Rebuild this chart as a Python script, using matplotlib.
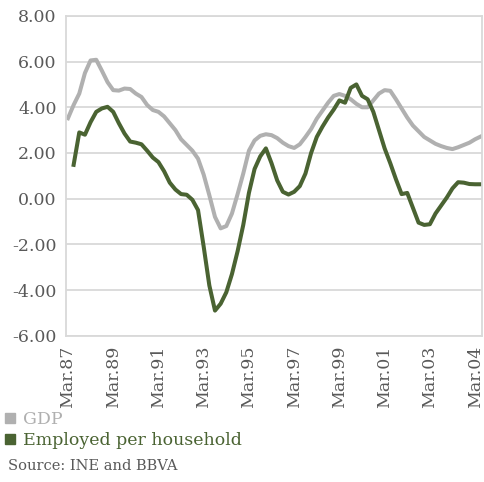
import numpy as np
import matplotlib
matplotlib.use('Agg')
import matplotlib.pyplot as plt
from matplotlib.lines import Line2D

# quarterly-ish points, tick label every 8 points
tick_labels = ['Mar.87', 'Mar.89', 'Mar.91', 'Mar.93', 'Mar.95', 'Mar.97',
               'Mar.99', 'Mar.01', 'Mar.03', 'Mar.04']

gdp = [3.52, 4.1, 4.6, 5.5, 6.05, 6.08, 5.6, 5.1, 4.75, 4.73,
       4.82, 4.8, 4.6, 4.45, 4.1, 3.88, 3.8, 3.6, 3.3, 3.0,
       2.6, 2.35, 2.1, 1.75, 1.05, 0.15, -0.8, -1.3, -1.2, -0.65,
       0.2, 1.1, 2.1, 2.55, 2.75, 2.82, 2.78, 2.65, 2.45, 2.3,
       2.22, 2.38, 2.7, 3.05, 3.5, 3.85, 4.2, 4.5, 4.58, 4.5,
       4.35, 4.15, 4.0, 4.0, 4.3, 4.6, 4.75, 4.72, 4.35, 3.95,
       3.55, 3.2, 2.95, 2.7, 2.55, 2.4, 2.3, 2.22, 2.17, 2.25,
       2.35, 2.45, 2.6, 2.72]

employed = [np.nan, 1.48, 2.9, 2.8, 3.35, 3.8, 3.95, 4.02, 3.8, 3.3,
            2.85, 2.5, 2.45, 2.38, 2.1, 1.8, 1.6, 1.2, 0.7, 0.4,
            0.2, 0.17, -0.05, -0.5, -2.1, -3.8, -4.9, -4.6, -4.1, -3.3,
            -2.3, -1.15, 0.25, 1.3, 1.85, 2.2, 1.55, 0.8, 0.3, 0.18,
            0.3, 0.55, 1.1, 2.0, 2.7, 3.15, 3.55, 3.9, 4.3, 4.2,
            4.85, 5.0, 4.5, 4.35, 3.8, 3.0, 2.2, 1.55, 0.85, 0.2,
            0.25, -0.4, -1.05, -1.15, -1.12, -0.65, -0.3, 0.05, 0.45, 0.72,
            0.7, 0.64, 0.63, 0.63]

gdp_color = '#b0b0b0'
emp_color = '#4a6332'
text_color = '#595959'
grid_color = '#d9d9d9'

plt.rcParams['font.family'] = ['DejaVu Serif']

fig = plt.figure(figsize=(4.85, 4.82), dpi=100)
ax = fig.add_axes([0.137, 0.3035, 0.856, 0.6635])

x = np.arange(len(gdp))
ax.plot(x, gdp, color=gdp_color, lw=2.9, solid_joinstyle='round')
ax.plot(x, employed, color=emp_color, lw=2.9, solid_joinstyle='round')

ax.set_ylim(-6, 8)
ax.set_yticks(np.arange(-6, 8.1, 2))
ax.set_yticklabels([f'{v:.2f}' for v in np.arange(-6, 8.1, 2)])
ax.set_xlim(-0.27, 73.15)
ax.set_xticks(np.arange(0, 8 * len(tick_labels), 8))
ax.set_xticklabels(tick_labels, rotation=90)

ax.grid(axis='y', color=grid_color, lw=1.3)
ax.set_axisbelow(True)
for s in ax.spines.values():
    s.set_color(grid_color)
    s.set_linewidth(1.3)
ax.tick_params(length=0, colors=text_color, labelsize=12.5, pad=7)

handles = [Line2D([], [], ls='', marker='s', ms=7, color=gdp_color),
           Line2D([], [], ls='', marker='s', ms=7, color=emp_color)]
leg = fig.legend(handles, ['GDP', 'Employed per household'], loc='upper left',
                 bbox_to_anchor=(0.0, 0.155), frameon=False, fontsize=12.5,
                 handletextpad=0.3, handlelength=0.8, labelspacing=0.25,
                 borderaxespad=0, borderpad=0.2)
for t, c in zip(leg.get_texts(), [gdp_color, emp_color]):
    t.set_color(c)

fig.text(0.017, 0.025, 'Source: INE and BBVA', fontsize=10.5, color=text_color)

fig.savefig('out.png', dpi=100)
